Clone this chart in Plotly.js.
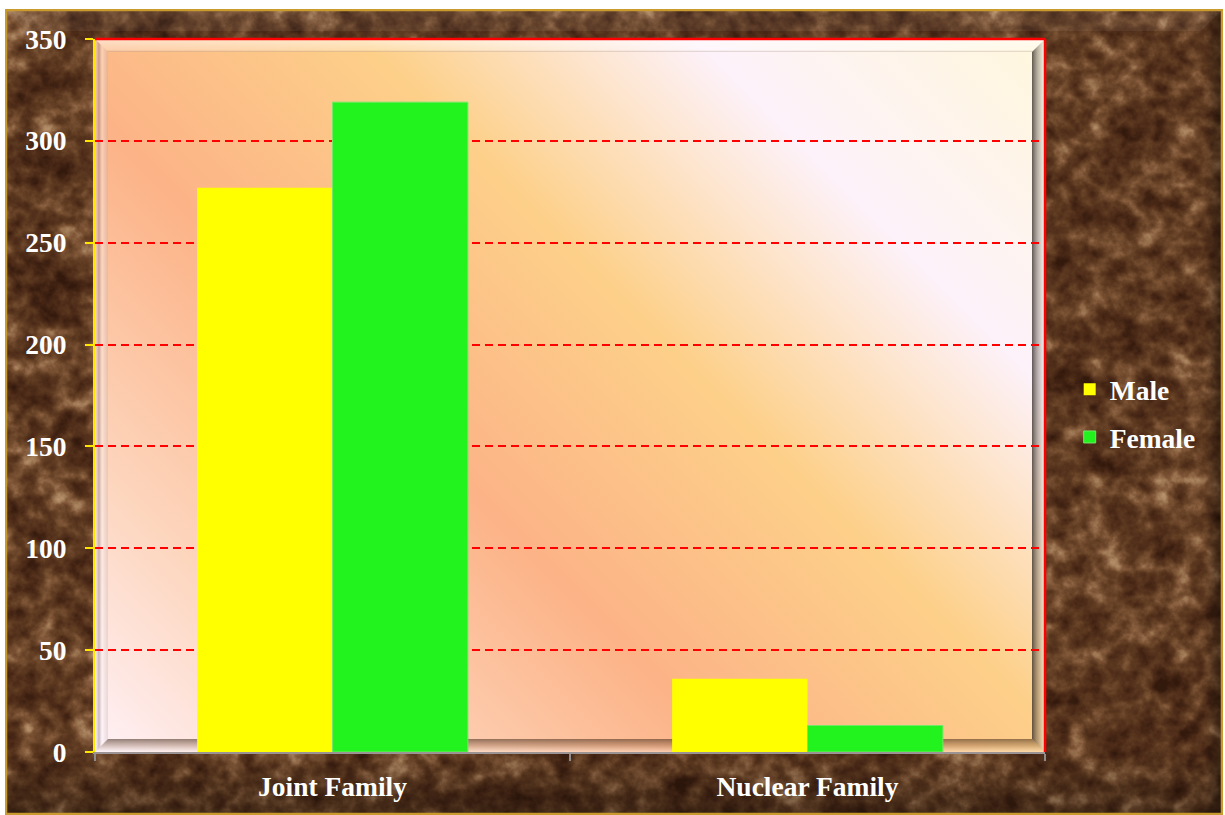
<!DOCTYPE html>
<html>
<head>
<meta charset="utf-8">
<script src="https://cdn.plot.ly/plotly-3.0.1.min.js"></script>
<style>
  html, body { margin: 0; padding: 0; background: #ffffff; }
  #chart { width: 1225px; height: 815px; }
</style>
</head>
<body>
<div id="chart"></div>
<script>
// Family type counts by gender
const categories = ['Joint Family', 'Nuclear Family'];
const maleCounts = [277, 36];
const femaleCounts = [319, 13];
const seriesNames = ['Male', 'Female'];

// Figure geometry (pixels)
const W = 1225, H = 815;
const M = { l: 95, r: 180, t: 39, b: 63 };
const PW = W - M.l - M.r;   // plot width
const PH = H - M.t - M.b;   // plot height

function svgUri(svg) {
  return 'data:image/svg+xml;charset=utf-8,' + encodeURIComponent(svg);
}

// Brown marble texture for the frame around the chart
const FW = 1218, FH = 806;
const marbleSvg =
  "<svg xmlns='http://www.w3.org/2000/svg' width='" + FW + "' height='" + FH + "' viewBox='0 0 " + FW + " " + FH + "' preserveAspectRatio='none'>" +
  "<defs>" +
  "<filter id='m' x='0' y='0' width='1' height='1' color-interpolation-filters='sRGB'>" +
  "<feTurbulence type='fractalNoise' baseFrequency='0.06' numOctaves='4' seed='7' result='g0'/>" +
  "<feColorMatrix in='g0' type='matrix' values='1 0 0 0 0  1 0 0 0 0  1 0 0 0 0  0 0 0 0 1' result='g'/>" +
  "<feTurbulence type='turbulence' baseFrequency='0.011 0.017' numOctaves='4' seed='23' result='v0'/>" +
  "<feColorMatrix in='v0' type='matrix' values='-1.6 0 0 0 1  -1.6 0 0 0 1  -1.6 0 0 0 1  0 0 0 0 1' result='v1'/>" +
  "<feComponentTransfer in='v1' result='v'>" +
  "<feFuncR type='gamma' amplitude='1' exponent='1.8' offset='0'/>" +
  "<feFuncG type='gamma' amplitude='1' exponent='1.8' offset='0'/>" +
  "<feFuncB type='gamma' amplitude='1' exponent='1.8' offset='0'/>" +
  "</feComponentTransfer>" +
  "<feGaussianBlur in='v' stdDeviation='0.8' result='vb'/>" +
  "<feTurbulence type='fractalNoise' baseFrequency='0.015' numOctaves='3' seed='4' result='c0'/>" +
  "<feColorMatrix in='c0' type='matrix' values='1 0 0 0 0  1 0 0 0 0  1 0 0 0 0  0 0 0 0 1' result='c'/>" +
  "<feComposite in='g' in2='vb' operator='arithmetic' k1='0' k2='0.85' k3='0.42' k4='-0.18' result='l1'/>" +
  "<feComposite in='l1' in2='c' operator='arithmetic' k1='0' k2='1' k3='0.45' k4='-0.2' result='l'/>" +
  "<feComponentTransfer in='l'>" +
  "<feFuncR type='table' tableValues='0.20 0.29 0.37 0.49 0.64 0.78'/>" +
  "<feFuncG type='table' tableValues='0.10 0.16 0.23 0.33 0.49 0.63'/>" +
  "<feFuncB type='table' tableValues='0.05 0.09 0.13 0.21 0.35 0.48'/>" +
  "<feFuncA type='linear' slope='0' intercept='1'/>" +
  "</feComponentTransfer>" +
  "</filter>" +
  "<linearGradient id='sh' x1='0' y1='0' x2='0' y2='1'>" +
  "<stop offset='0' stop-color='#000' stop-opacity='0'/>" +
  "<stop offset='0.92' stop-color='#000' stop-opacity='0'/>" +
  "<stop offset='1' stop-color='#000' stop-opacity='0.3'/>" +
  "</linearGradient>" +
  "<linearGradient id='sr' x1='0' y1='0' x2='1' y2='0'>" +
  "<stop offset='0' stop-color='#000' stop-opacity='0'/>" +
  "<stop offset='0.985' stop-color='#000' stop-opacity='0'/>" +
  "<stop offset='1' stop-color='#000' stop-opacity='0.45'/>" +
  "</linearGradient>" +
  "</defs>" +
  "<rect x='0' y='0' width='" + FW + "' height='" + FH + "' filter='url(#m)'/>" +
  "<rect x='0' y='0' width='" + FW + "' height='" + FH + "' fill='url(#sh)'/>" +
  "<rect x='0' y='0' width='" + FW + "' height='" + FH + "' fill='url(#sr)'/>" +
  "<polygon points='0,0 " + FW + ",0 " + (FW - 22) + ",22 22,22' fill='#fff' fill-opacity='0.06'/>" +
  "<rect x='1' y='1' width='" + (FW - 2) + "' height='" + (FH - 2) + "' fill='none' stroke='#C99A2E' stroke-width='2.5'/>" +
  "</svg>";

// Diagonal sunset gradient and bevelled edge for the plotting area
const bw = 13;
const gx2 = 831.5, gy2 = PH - 831.5;
const panelSvg =
  "<svg xmlns='http://www.w3.org/2000/svg' width='" + PW + "' height='" + PH + "' viewBox='0 0 " + PW + " " + PH + "' preserveAspectRatio='none'>" +
  "<defs>" +
  "<linearGradient id='bg' gradientUnits='userSpaceOnUse' x1='0' y1='" + PH + "' x2='" + gx2 + "' y2='" + gy2 + "'>" +
  "<stop offset='0' stop-color='#FFF1F7'/>" +
  "<stop offset='0.17' stop-color='#FDD6BE'/>" +
  "<stop offset='0.38' stop-color='#FCB387'/>" +
  "<stop offset='0.59' stop-color='#FDD089'/>" +
  "<stop offset='0.79' stop-color='#FDF2FA'/>" +
  "<stop offset='1' stop-color='#FFF7DC'/>" +
  "</linearGradient>" +
  "<linearGradient id='tp' x1='0' y1='0' x2='0' y2='1'>" +
  "<stop offset='0' stop-color='#fff' stop-opacity='0.55'/>" +
  "<stop offset='0.85' stop-color='#fff' stop-opacity='0.3'/>" +
  "<stop offset='1' stop-color='#9a8070' stop-opacity='0.35'/>" +
  "</linearGradient>" +
  "<linearGradient id='lf' x1='0' y1='0' x2='1' y2='0'>" +
  "<stop offset='0' stop-color='#fff' stop-opacity='0.3'/>" +
  "<stop offset='0.3' stop-color='#8a7888' stop-opacity='0.45'/>" +
  "<stop offset='0.55' stop-color='#fff' stop-opacity='0.35'/>" +
  "<stop offset='1' stop-color='#b8a8b0' stop-opacity='0.3'/>" +
  "</linearGradient>" +
  "<linearGradient id='rt' x1='0' y1='0' x2='1' y2='0'>" +
  "<stop offset='0' stop-color='#2a2420' stop-opacity='0.75'/>" +
  "<stop offset='0.45' stop-color='#6a6058' stop-opacity='0.45'/>" +
  "<stop offset='1' stop-color='#fff' stop-opacity='0.45'/>" +
  "</linearGradient>" +
  "<linearGradient id='bt' x1='0' y1='0' x2='0' y2='1'>" +
  "<stop offset='0' stop-color='#3a2414' stop-opacity='0.55'/>" +
  "<stop offset='0.5' stop-color='#6a4a34' stop-opacity='0.3'/>" +
  "<stop offset='1' stop-color='#fff' stop-opacity='0.25'/>" +
  "</linearGradient>" +
  "</defs>" +
  "<rect x='0' y='0' width='" + PW + "' height='" + PH + "' fill='url(#bg)'/>" +
  "<polygon points='0,0 " + PW + ",0 " + (PW - bw) + "," + bw + " " + bw + "," + bw + "' fill='url(#tp)'/>" +
  "<polygon points='0,0 " + bw + "," + bw + " " + bw + "," + (PH - bw) + " 0," + PH + "' fill='url(#lf)'/>" +
  "<polygon points='" + PW + ",0 " + PW + "," + PH + " " + (PW - bw) + "," + (PH - bw) + " " + (PW - bw) + "," + bw + "' fill='url(#rt)'/>" +
  "<polygon points='0," + PH + " " + bw + "," + (PH - bw) + " " + (PW - bw) + "," + (PH - bw) + " " + PW + "," + PH + "' fill='url(#bt)'/>" +
  "</svg>";

// Paper coordinates of the marble frame (starts at 5,9 in page pixels)
const frameX0 = (5 - M.l) / PW;
const frameYTop = (H - M.b - 9) / PH;

const labelFont = { family: 'Liberation Serif, DejaVu Serif, serif', size: 27.5, color: '#FFFFFF', weight: 'bold' };

const traces = [
  {
    type: 'bar', name: seriesNames[0], x: categories, y: maleCounts,
    marker: { color: '#FFFF00', line: { width: 0 } },
    legendgroup: 'm', hoverinfo: 'x+y+name'
  },
  {
    type: 'bar', name: seriesNames[1], x: categories, y: femaleCounts,
    marker: { color: '#22F21E', line: { color: '#74E866', width: 1 } },
    legendgroup: 'f', hoverinfo: 'x+y+name'
  }
];

const layout = {
  width: W, height: H,
  margin: M,
  paper_bgcolor: '#FFFFFF',
  plot_bgcolor: 'rgba(0,0,0,0)',
  barmode: 'group',
  bargap: 0.43,
  bargroupgap: 0,
  showlegend: true,
  legend: {
    x: 1.026, xanchor: 'left', xref: 'paper',
    y: 0.475, yanchor: 'middle',
    font: labelFont,
    bgcolor: 'rgba(0,0,0,0)',
    borderwidth: 0,
    tracegroupgap: 9,
    itemwidth: 30
  },
  xaxis: {
    type: 'category',
    showline: true, linecolor: '#9C9494', linewidth: 2,
    ticks: 'outside', tickson: 'boundaries', ticklen: 7, tickwidth: 2, tickcolor: '#8C8C8C',
    tickfont: labelFont,
    ticklabelstandoff: 9,
    showgrid: false, zeroline: false,
    fixedrange: true
  },
  yaxis: {
    range: [0, 350], tick0: 0, dtick: 50,
    showline: true, linecolor: '#FFE600', linewidth: 2,
    ticks: 'outside', ticklen: 8, tickwidth: 2, tickcolor: '#FFE600',
    tickfont: labelFont,
    ticklabelstandoff: 13,
    showgrid: true, gridcolor: '#FF0000', gridwidth: 2, griddash: '8px,5px',
    zeroline: false,
    fixedrange: true
  },
  images: [
    {
      source: svgUri(marbleSvg), xref: 'paper', yref: 'paper',
      x: frameX0, y: frameYTop, sizex: FW / PW, sizey: FH / PH,
      xanchor: 'left', yanchor: 'top', sizing: 'stretch', layer: 'below'
    },
    {
      source: svgUri(panelSvg), xref: 'paper', yref: 'paper',
      x: 0, y: 1, sizex: 1, sizey: 1,
      xanchor: 'left', yanchor: 'top', sizing: 'stretch', layer: 'below'
    }
  ],
  shapes: [
    // red border along the top and right of the plotting area
    { type: 'line', xref: 'paper', yref: 'paper', x0: 0, x1: 1, y0: 1, y1: 1,
      line: { color: '#FF0000', width: 2.5 } },
    { type: 'line', xref: 'paper', yref: 'paper', x0: 1, x1: 1, y0: 0, y1: 1,
      line: { color: '#FF0000', width: 2.5 } }
  ]
};

Plotly.newPlot('chart', traces, layout, { staticPlot: true, displayModeBar: false });
</script>
</body>
</html>
